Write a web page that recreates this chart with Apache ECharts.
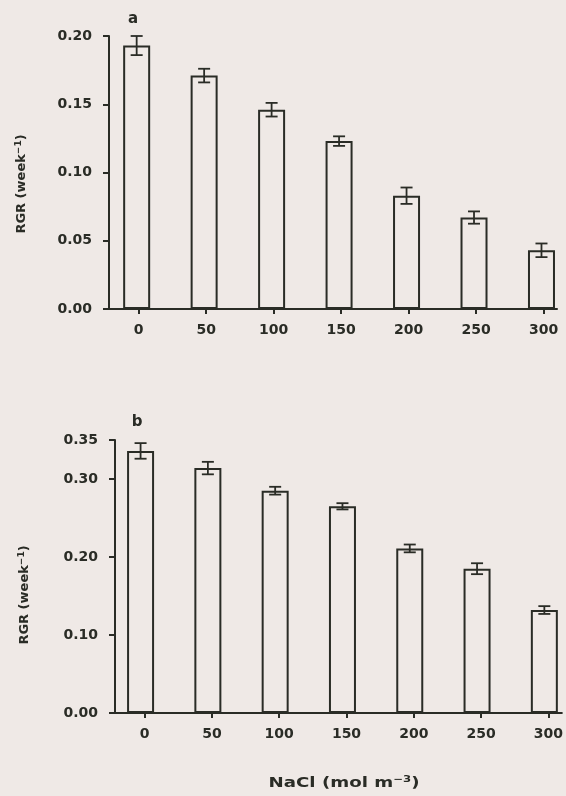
<!DOCTYPE html>
<html>
<head>
<meta charset="utf-8">
<script src="https://cdn.jsdelivr.net/npm/echarts@6/dist/echarts.min.js"></script>
<style>
  html, body { margin: 0; padding: 0; background: #efe9e6; }
  #chart { width: 566px; height: 796px; }
</style>
</head>
<body>
<div id="chart"></div>
<script>
// NaCl concentration (mol m-3)
const nacl = [0, 50, 100, 150, 200, 250, 300];
// Panel a: relative growth rate (week-1) and standard errors
const rgrA = [0.193, 0.171, 0.146, 0.123, 0.083, 0.067, 0.043];
const errA = [0.007, 0.005, 0.005, 0.0035, 0.006, 0.0045, 0.005];
// Panel b
const rgrB = [0.336, 0.314, 0.285, 0.265, 0.211, 0.185, 0.132];
const errB = [0.010, 0.008, 0.005, 0.004, 0.005, 0.007, 0.005];
// Tick values
const xTicks = [0, 50, 100, 150, 200, 250, 300];
const yTicksA = [0, 0.05, 0.10, 0.15, 0.20];
const yTicksB = [0, 0.10, 0.20, 0.30, 0.35];

const INK = '#2a2c26';
const FONT = 'DejaVu Sans';
const X_MIN = -22, X_MAX = 310;

// Visible x axis with ticks and labels
function xAxisFor(gridIndex) {
  return {
    type: 'value', gridIndex, min: X_MIN, max: X_MAX,
    axisLine: { show: true, onZero: false, lineStyle: { color: INK, width: 2 } },
    axisTick: { show: true, customValues: xTicks, length: 5, lineStyle: { color: INK, width: 2 } },
    axisLabel: { customValues: xTicks, margin: 14, color: INK, fontFamily: FONT, fontWeight: 'bold', fontSize: 14 },
    splitLine: { show: false }
  };
}
// Hidden x axis carrying the bars; the printed bars sit a little left of their ticks
function barAxisFor(gridIndex, nudge) {
  return {
    type: 'value', gridIndex, min: X_MIN + nudge, max: X_MAX + nudge, show: false,
    axisLine: { onZero: false }, splitLine: { show: false }
  };
}
function yAxisFor(gridIndex, max, ticks) {
  return {
    type: 'value', gridIndex, min: 0, max,
    axisLine: { show: true, onZero: false, lineStyle: { color: INK, width: 2 } },
    axisTick: { show: true, customValues: ticks, length: 6, lineStyle: { color: INK, width: 2 } },
    axisLabel: { customValues: ticks, margin: 17, color: INK, fontFamily: FONT, fontWeight: 'bold', fontSize: 14,
                 formatter: v => v.toFixed(2) },
    splitLine: { show: false }
  };
}
function barSeries(xIdx, yIdx, vals) {
  return {
    type: 'bar', xAxisIndex: xIdx, yAxisIndex: yIdx,
    data: nacl.map((x, i) => [x, vals[i]]),
    barWidth: 27,
    itemStyle: { color: 'rgba(0,0,0,0)', borderColor: INK, borderWidth: 2 },
    silent: true, animation: false
  };
}
function errSeries(xIdx, yIdx, vals, errs) {
  return {
    type: 'custom', xAxisIndex: xIdx, yAxisIndex: yIdx,
    data: nacl.map((x, i) => [x, vals[i], errs[i]]),
    encode: { x: 0, y: 1 },
    renderItem: (params, api) => {
      const x = api.value(0), y = api.value(1), e = api.value(2);
      const hi = api.coord([x, y + e]);
      const lo = api.coord([x, y - e]);
      const cap = 6;
      const style = { stroke: INK, lineWidth: 1.8, fill: null };
      return {
        type: 'group',
        children: [
          { type: 'line', shape: { x1: hi[0], y1: hi[1], x2: lo[0], y2: lo[1] }, style },
          { type: 'line', shape: { x1: hi[0] - cap, y1: hi[1], x2: hi[0] + cap, y2: hi[1] }, style },
          { type: 'line', shape: { x1: lo[0] - cap, y1: lo[1], x2: lo[0] + cap, y2: lo[1] }, style }
        ]
      };
    },
    z: 5, silent: true, animation: false
  };
}
const supStyle = { fontSize: 9, fontWeight: 'bold', fontFamily: FONT, fill: INK, verticalAlign: 'top', padding: [0, 0, 7, 0] };
function text(x, y, str, size, opts) {
  return Object.assign({
    type: 'text', x, y,
    style: {
      text: str, fill: INK, font: 'bold ' + size + 'px "' + FONT + '"',
      align: 'center', verticalAlign: 'middle',
      rich: { sup: supStyle }
    }
  }, opts || {});
}

const chart = echarts.init(document.getElementById('chart'), null, { renderer: 'canvas' });
chart.setOption({
  backgroundColor: '#efe9e6',
  animation: false,
  grid: [
    { left: 109, right: 9, top: 36, height: 273 },
    { left: 115, right: 3, top: 440, height: 273 }
  ],
  xAxis: [xAxisFor(0), xAxisFor(1), barAxisFor(0, 1.5), barAxisFor(1, 3)],
  yAxis: [yAxisFor(0, 0.20, yTicksA), yAxisFor(1, 0.35, yTicksB)],
  series: [
    barSeries(2, 0, rgrA), errSeries(2, 0, rgrA, errA),
    barSeries(3, 1, rgrB), errSeries(3, 1, rgrB, errB)
  ],
  graphic: [
    text(133, 19, 'a', 15),
    text(137, 422, 'b', 15),
    text(22, 184, 'RGR (week{sup|−1})', 13, { rotation: Math.PI / 2 }),
    text(25, 595, 'RGR (week{sup|−1})', 13, { rotation: Math.PI / 2 }),
    text(344, 783, 'NaCl (mol m{sup|−3})', 14, { scaleX: 1.3 })
  ]
});
</script>
</body>
</html>
